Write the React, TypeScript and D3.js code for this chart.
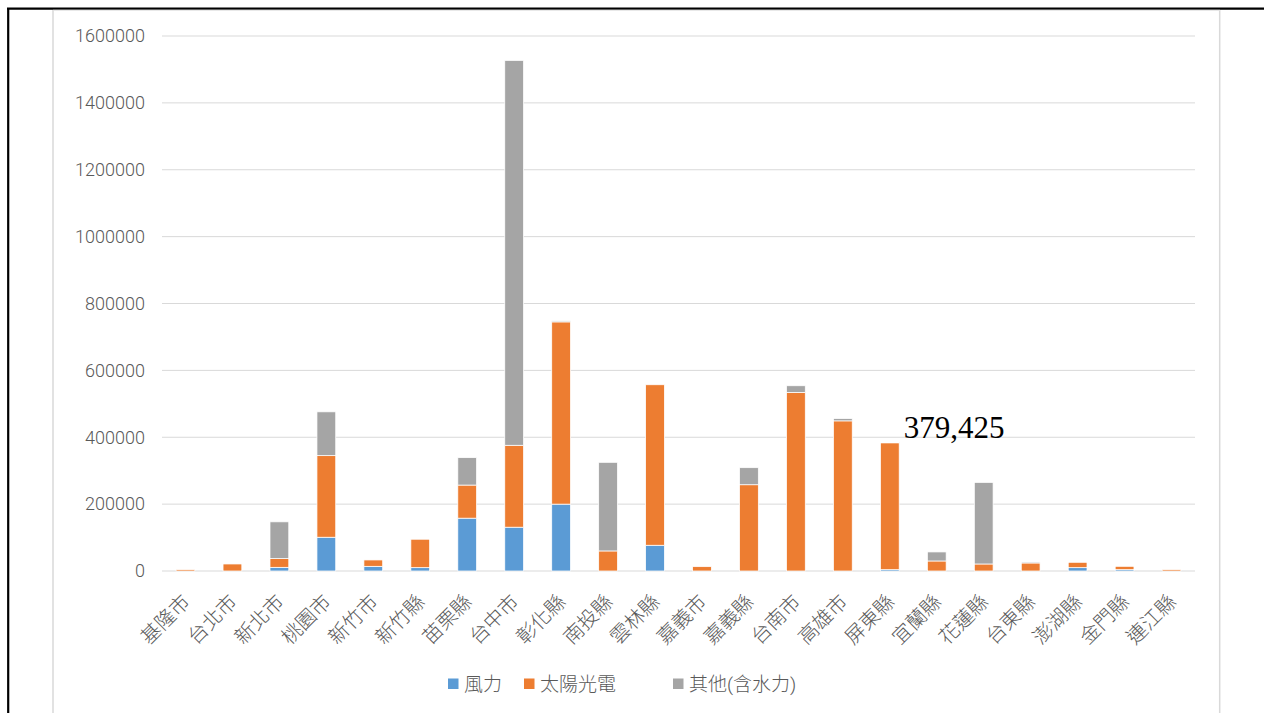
import React from "react";
import * as d3 from "d3";

const categories = ["基隆市","台北市","新北市","桃園市","新竹市","新竹縣","苗栗縣","台中市","彰化縣","南投縣","雲林縣","嘉義市","嘉義縣","台南市","高雄市","屏東縣","宜蘭縣","花蓮縣","台東縣","澎湖縣","金門縣","連江縣"];
const wind = [0, 0, 11000, 101000, 14000, 10000, 158000, 131000, 200000, 0, 77000, 0, 0, 0, 0, 4000, 0, 0, 0, 10000, 4000, 0];
const solar = [4000, 21000, 26000, 244000, 19000, 85000, 99000, 245000, 545000, 60000, 480000, 13000, 258000, 534000, 449000, 379425, 30000, 21000, 24000, 16000, 10000, 4000];
const other = [0, 0, 110000, 131000, 0, 0, 82000, 1151000, 3000, 265000, 0, 0, 51000, 20000, 7000, 2000, 27000, 244000, 3000, 0, 0, 0];
const seriesNames = ["風力", "太陽光電", "其他(含水力)"];
const seriesColors = ["#5B9BD5", "#ED7D31", "#A5A5A5"];
const yTicks = [0, 200000, 400000, 600000, 800000, 1000000, 1200000, 1400000, 1600000];
const annotationText = "379,425";
const annotationIndex = 15;

export default function App() {
  const W = 1264, H = 713;
  const x = d3.scaleBand<string>().domain(categories).range([162, 1195]).paddingInner(0.6).paddingOuter(0.3);
  const y = d3.scaleLinear().domain([0, 1600000]).range([571, 36]);
  const rows = categories.map((c, i) => ({ cat: c, wind: wind[i], solar: solar[i], other: other[i] }));
  const stacked = d3.stack<any>().keys(["wind", "solar", "other"])(rows);
  const font = "Roboto, 'Noto Sans CJK TC', sans-serif";
  const legendItems = [
    { x: 448 },
    { x: 524 },
    { x: 673 },
  ];
  const annCx = (x(categories[annotationIndex]) ?? 0) + x.bandwidth() / 2;
  return (
    <div style={{ position: "fixed", left: 0, top: 0, width: W, height: H, background: "#fff" }}>
      <svg width={W} height={H} style={{ display: "block" }}>
        <rect x={0} y={0} width={W} height={H} fill="#fff" />
        {/* outer black frame */}
        <line x1={8.2} y1={8.7} x2={8.2} y2={H} stroke="#000" strokeWidth={2.2} />
        <line x1={7} y1={8.7} x2={W} y2={8.7} stroke="#000" strokeWidth={2.2} />
        {/* chart area frame */}
        <line x1={53} y1={10} x2={53} y2={H} stroke="#D9D9D9" strokeWidth={1.5} />
        <line x1={1219.7} y1={10} x2={1219.7} y2={H} stroke="#D9D9D9" strokeWidth={1.5} />
        <line x1={53} y1={10.3} x2={1220} y2={10.3} stroke="#E3E3E3" strokeWidth={1} />
        {/* gridlines */}
        {yTicks.map((t) => (
          <line key={t} x1={162} x2={1195} y1={y(t)} y2={y(t)} stroke="#D9D9D9" strokeWidth={1} />
        ))}
        {/* y tick labels */}
        {yTicks.map((t) => (
          <text key={"l" + t} x={145} y={y(t)} dy="0.35em" textAnchor="end" fontFamily={font} fontWeight={300} fontSize={18} fill="#595959">
            {String(t)}
          </text>
        ))}
        {/* bars */}
        {stacked.map((s, si) => (
          <g key={si} fill={seriesColors[si]}>
            {s.map((d, i) => {
              const h = y(d[0]) - y(d[1]);
              if (h <= 0) return null;
              return (
                <rect key={i} x={x(categories[i])} y={y(d[1])} width={x.bandwidth()} height={h} stroke="#fff" strokeWidth={0.75} />
              );
            })}
          </g>
        ))}
        {/* x labels */}
        {categories.map((c) => {
          const cx = (x(c) ?? 0) + x.bandwidth() / 2;
          return (
            <text key={c} transform={`translate(${cx + 6},${603}) rotate(-45)`} textAnchor="end" fontFamily="'Noto Sans CJK TC', sans-serif" fontWeight={300} fontSize={20} fill="#595959">
              {c}
            </text>
          );
        })}
        {/* legend */}
        {seriesNames.map((n, i) => (
          <g key={n}>
            <rect x={legendItems[i].x} y={678.5} width={10.5} height={10.5} fill={seriesColors[i]} />
            <text x={legendItems[i].x + 16} y={684} dy="0.35em" fontFamily={font} fontWeight={300} fontSize={19} fill="#595959">
              {n}
            </text>
          </g>
        ))}
        {/* annotation */}
        <text x={annCx + 14} y={438} fontFamily="'Liberation Serif', 'Times New Roman', serif" fontSize={31} fill="#000">
          {annotationText}
        </text>
      </svg>
    </div>
  );
}
